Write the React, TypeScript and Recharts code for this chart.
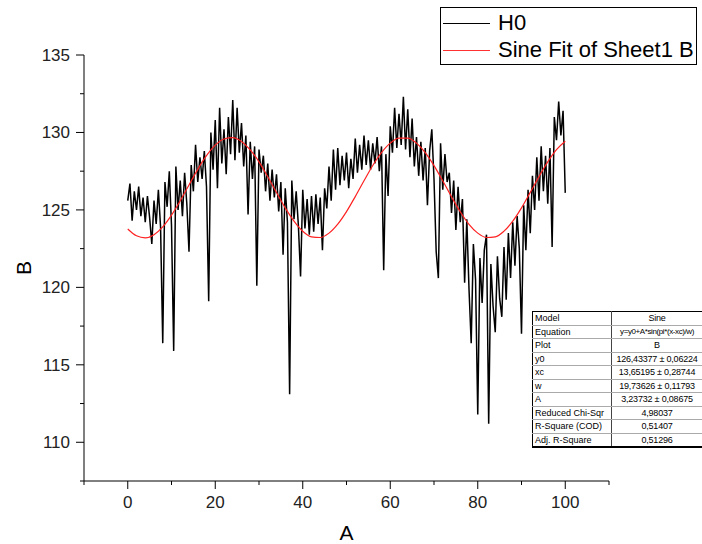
import { Line, LineChart, XAxis, YAxis } from 'recharts';

const FONT = '"Liberation Sans", Arial, sans-serif';

const STEP = 0.5;
const h0Values = [
  125.6, 126.7, 124.3, 126.2, 125.0, 126.5, 124.6, 125.8, 124.2, 125.9,
  124.5, 122.8, 125.6, 124.1, 126.3, 123.9, 116.4, 126.8, 125.2, 127.5,
  124.0, 115.9, 127.8, 125.0, 126.9, 124.6, 127.4, 125.4, 122.3, 127.9,
  126.2, 129.2, 126.8, 128.4, 127.0, 128.8, 126.5, 119.1, 130.0, 127.6,
  130.8, 126.4, 131.6, 128.0, 130.2, 127.3, 131.0, 128.6, 132.1, 128.2,
  131.6, 128.7, 130.6, 127.8, 129.8, 124.7, 129.4, 127.0, 129.1, 120.1,
  128.9, 127.4, 128.5, 126.2, 128.0, 125.6, 127.6, 125.8, 127.3, 124.9,
  126.8, 122.1, 126.4, 124.2, 113.1, 126.9, 124.4, 126.2, 124.0, 120.7,
  126.3, 123.8, 125.7, 123.4, 125.9, 123.6, 126.0, 124.1, 125.8, 122.4,
  126.4, 125.1, 127.8, 125.6, 128.9, 126.3, 129.0, 126.6, 128.5, 126.9,
  128.7, 126.4, 128.3, 127.0, 129.6, 127.4, 129.2, 127.6, 129.8, 127.9,
  129.5, 127.6, 129.3, 128.0, 129.7, 127.5, 129.1, 121.1, 128.6, 125.9,
  130.4, 128.7, 131.6, 129.0, 131.2, 129.2, 132.3, 128.9, 131.5, 128.4,
  130.9, 127.8, 129.7, 127.2, 129.4, 126.9, 129.0, 125.3, 128.8, 130.2,
  127.0, 122.3, 120.6, 129.3, 126.3, 128.6, 126.8, 127.4, 124.8, 126.9,
  123.7, 126.5, 124.2, 125.7, 120.3, 124.4, 119.9, 116.4, 122.8, 120.5,
  111.8, 121.9, 119.0, 122.4, 123.4, 111.2, 121.5, 118.8, 117.1, 122.0,
  119.3, 118.1, 122.6, 119.2, 123.5, 120.6, 124.2, 121.4, 124.6, 122.5,
  117.0, 125.3, 122.4, 126.3, 123.5, 127.2, 125.0, 128.4, 125.6, 129.1,
  126.2, 128.5, 125.4, 129.0, 122.6, 131.0, 129.5, 132.0, 129.8, 131.4,
  126.1,
];

// Sine fit curve
const fitA = [
  0, 2, 4, 6, 8, 10, 12, 14, 16, 18, 20, 22, 24, 26, 28, 30, 32, 34, 36, 38,
  40, 42, 44, 46, 48, 50, 52, 54, 56, 58, 60, 62, 64, 66, 68, 70, 72, 74, 76,
  78, 80, 82, 84, 86, 88, 90, 92, 94, 96, 98, 100,
];
const fitB = [
  123.77, 123.33, 123.2, 123.4, 123.9, 124.66, 125.59, 126.61, 127.62, 128.5,
  129.18, 129.58, 129.66, 129.42, 128.88, 128.1, 127.14, 126.12, 125.13, 124.27,
  123.62, 123.26, 123.22, 123.5, 124.08, 124.89, 125.86, 126.88, 127.87, 128.7,
  129.31, 129.63, 129.63, 129.31, 128.7, 127.86, 126.88, 125.85, 124.88, 124.07,
  123.5, 123.22, 123.26, 123.63, 124.27, 125.13, 126.13, 127.15, 128.1, 128.89,
  129.43,
];

const xTicks = [-10, 0, 10, 20, 30, 40, 50, 60, 70, 80, 90, 100, 110];
const xMajor = [0, 20, 40, 60, 80, 100];
const yTicks = [107.5, 110, 112.5, 115, 117.5, 120, 122.5, 125, 127.5, 130, 132.5, 135];
const yMajor = [110, 115, 120, 125, 130, 135];

const tableRows: [string, string][] = [
  ['Model', 'Sine'],
  ['Equation', 'y=y0+A*sin(pi*(x-xc)/w)'],
  ['Plot', 'B'],
  ['y0', '126,43377 ± 0,06224'],
  ['xc', '13,65195 ± 0,28744'],
  ['w', '19,73626 ± 0,11793'],
  ['A', '3,23732 ± 0,08675'],
  ['Reduced Chi-Sqr', '4,98037'],
  ['R-Square (COD)', '0,51407'],
  ['Adj. R-Square', '0,51296'],
];

const h0Data = h0Values.map((b, i) => ({ a: i * STEP, b }));
const fitData = fitA.map((a, i) => ({ a, b: fitB[i] }));

const XTick = ({ x, y, payload }: any) => {
  const major = xMajor.includes(payload.value);
  return (
    <g>
      <line x1={x} x2={x} y1={y} y2={y + (major ? 8 : 4)} stroke="#000" />
      {major && (
        <text x={x} y={y + 27} textAnchor="middle" fontSize={17} fill="#222" fontFamily={FONT}>
          {payload.value}
        </text>
      )}
    </g>
  );
};

const YTick = ({ x, y, payload }: any) => {
  const major = yMajor.includes(payload.value);
  return (
    <g>
      <line x1={x - (major ? 8 : 4)} x2={x} y1={y} y2={y} stroke="#000" />
      {major && (
        <text x={x - 14} y={y + 6} textAnchor="end" fontSize={17} fill="#222" fontFamily={FONT}>
          {payload.value}
        </text>
      )}
    </g>
  );
};

const YTitle = ({ viewBox }: any) => {
  const cy = viewBox.y + viewBox.height / 2;
  return (
    <text
      x={23}
      y={cy}
      transform={`rotate(-90 23 ${cy})`}
      textAnchor="middle"
      dominantBaseline="central"
      fontSize={21}
      fontFamily={FONT}
    >
      B
    </text>
  );
};

const XTitle = ({ viewBox }: any) => (
  <text
    x={viewBox.x + viewBox.width / 2}
    y={viewBox.y + viewBox.height - 4}
    textAnchor="middle"
    fontSize={21}
    fontFamily={FONT}
  >
    A
  </text>
);

const FitLegend = () => (
  <div
    style={{
      position: 'absolute',
      left: 440,
      top: 7,
      width: 255,
      height: 56,
      border: '1px solid #000',
      background: '#fff',
      fontFamily: FONT,
      fontSize: 22,
    }}
  >
    {[
      { name: 'H0', color: '#000' },
      { name: 'Sine Fit of Sheet1 B', color: '#ff3030' },
    ].map((item, i) => (
      <div
        key={item.name}
        style={{ position: 'absolute', left: 2, top: 2 + i * 27, height: 26, display: 'flex', alignItems: 'center' }}
      >
        <div style={{ width: 47, height: 0, borderTop: `1.5px solid ${item.color}`, marginRight: 8 }} />
        <span style={{ whiteSpace: 'nowrap' }}>{item.name}</span>
      </div>
    ))}
  </div>
);

const cellBase = { padding: 0, borderBottom: '1px solid #aaa', whiteSpace: 'nowrap' as const, overflow: 'hidden' };

const FitTable = () => (
  <table
    style={{
      position: 'absolute',
      left: 532,
      top: 311,
      width: 170,
      tableLayout: 'fixed',
      borderCollapse: 'collapse',
      fontFamily: FONT,
      fontSize: 9,
      background: '#fff',
      border: '1px solid #000',
      borderBottomWidth: 2,
    }}
  >
    <colgroup>
      <col style={{ width: 79 }} />
      <col style={{ width: 91 }} />
    </colgroup>
    <tbody>
      {tableRows.map(([k, v]) => (
        <tr key={k} style={{ height: 13.5 }}>
          <td style={{ ...cellBase, paddingLeft: 2, borderRight: '1px solid #444' }}>{k}</td>
          <td
            style={{
              ...cellBase,
              textAlign: 'center',
              fontSize: k === 'Equation' ? 8 : 9,
              letterSpacing: k === 'Equation' ? -0.4 : -0.2,
            }}
          >
            {v}
          </td>
        </tr>
      ))}
    </tbody>
  </table>
);

export default function App() {
  return (
    <div style={{ position: 'absolute', left: 0, top: 0, width: 702, height: 544, overflow: 'hidden', background: '#fff' }}>
      <LineChart width={702} height={544} margin={{ top: 55, right: 93, bottom: 0, left: 0 }}>
        <XAxis
          dataKey="a"
          type="number"
          domain={[-10, 110]}
          ticks={xTicks}
          allowDataOverflow
          height={63}
          stroke="#000"
          tickLine={false}
          tickSize={0}
          tickMargin={0}
          tick={<XTick />}
          interval={0}
          label={{ content: <XTitle /> }}
        />
        <YAxis
          type="number"
          domain={[107.5, 135]}
          ticks={yTicks}
          allowDataOverflow
          width={84}
          stroke="#000"
          tickLine={false}
          tickSize={0}
          tickMargin={0}
          tick={<YTick />}
          interval={0}
          label={{ content: <YTitle /> }}
        />
        <Line
          data={h0Data}
          dataKey="b"
          type="linear"
          stroke="#000"
          strokeWidth={1.5}
          dot={false}
          isAnimationActive={false}
        />
        <Line
          data={fitData}
          dataKey="b"
          type="monotone"
          stroke="#ff2020"
          strokeWidth={1.2}
          dot={false}
          isAnimationActive={false}
        />
      </LineChart>
      <FitLegend />
      <FitTable />
    </div>
  );
}
